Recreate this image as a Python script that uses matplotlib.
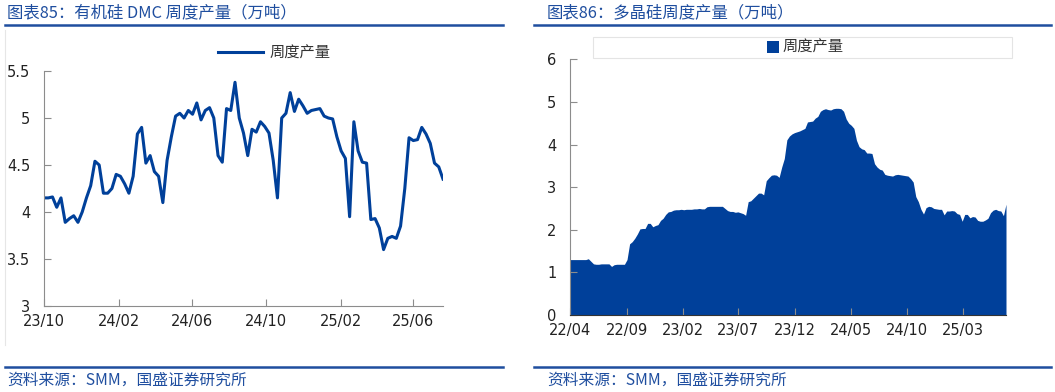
"""weekly output charts: DMC and polysilicon"""
import matplotlib
matplotlib.use("Agg")
import matplotlib.pyplot as plt
import matplotlib.dates as mdates
import pandas as pd
from matplotlib.lines import Line2D
from matplotlib.patches import Rectangle

CJK = ['Noto Sans CJK SC', 'DejaVu Sans']
BLUE = '#00409A'
TITLE_BLUE = '#1F4E9F'

DMC_START = '2023-10-01'
DMC_OUTPUT = [
    4.15, 4.15, 4.16, 4.05, 4.15, 3.89, 3.93, 3.96, 3.89, 4.00,
    4.15, 4.28, 4.54, 4.50, 4.20, 4.20, 4.25, 4.40, 4.38, 4.30,
    4.20, 4.38, 4.83, 4.90, 4.52, 4.60, 4.43, 4.38, 4.10, 4.55,
    4.80, 5.02, 5.05, 5.00, 5.08, 5.04, 5.16, 4.98, 5.08, 5.11,
    5.00, 4.60, 4.53, 5.10, 5.08, 5.38, 5.00, 4.84, 4.60, 4.88,
    4.85, 4.96, 4.91, 4.84, 4.55, 4.15, 5.00, 5.05, 5.27, 5.07,
    5.20, 5.13, 5.05, 5.08, 5.09, 5.10, 5.02, 5.00, 4.99, 4.80,
    4.65, 4.57, 3.95, 4.96, 4.65, 4.53, 4.52, 3.92, 3.93, 3.83,
    3.60, 3.72, 3.74, 3.72, 3.85, 4.25, 4.79, 4.76, 4.77, 4.90,
    4.83, 4.73, 4.52, 4.48, 4.35]
DMC_TICKS = ['2023-10-01', '2024-02-01', '2024-06-01', '2024-10-01',
             '2025-02-01', '2025-06-01']

POLY_START = '2022-04-01'
POLY_OUTPUT = [
    1.30, 1.30, 1.30, 1.30, 1.30, 1.30, 1.30, 1.32, 1.26, 1.20,
    1.19, 1.19, 1.20, 1.20, 1.20, 1.20, 1.14, 1.18, 1.19, 1.19,
    1.19, 1.19, 1.30, 1.67, 1.72, 1.80, 1.90, 2.02, 2.03, 2.03,
    2.15, 2.15, 2.07, 2.10, 2.12, 2.22, 2.27, 2.36, 2.42, 2.43,
    2.46, 2.47, 2.47, 2.48, 2.47, 2.48, 2.48, 2.48, 2.49, 2.49,
    2.50, 2.49, 2.49, 2.54, 2.55, 2.55, 2.55, 2.55, 2.55, 2.55,
    2.50, 2.45, 2.43, 2.43, 2.41, 2.42, 2.40, 2.38, 2.34, 2.66,
    2.68, 2.74, 2.80, 2.86, 2.86, 2.82, 3.15, 3.22, 3.28, 3.29,
    3.28, 3.23, 3.47, 3.67, 4.11, 4.20, 4.25, 4.28, 4.30, 4.32,
    4.35, 4.38, 4.53, 4.54, 4.55, 4.62, 4.66, 4.78, 4.82, 4.84,
    4.82, 4.81, 4.84, 4.85, 4.85, 4.84, 4.78, 4.60, 4.50, 4.45,
    4.38, 4.10, 3.95, 3.90, 3.88, 3.80, 3.80, 3.79, 3.55, 3.47,
    3.42, 3.40, 3.30, 3.28, 3.27, 3.26, 3.29, 3.30, 3.29, 3.28,
    3.27, 3.26, 3.20, 3.12, 2.78, 2.66, 2.48, 2.37, 2.52, 2.55,
    2.54, 2.50, 2.49, 2.48, 2.48, 2.35, 2.44, 2.44, 2.45, 2.44,
    2.38, 2.36, 2.20, 2.36, 2.36, 2.28, 2.31, 2.30, 2.22, 2.20,
    2.20, 2.23, 2.27, 2.40, 2.46, 2.48, 2.45, 2.44, 2.33, 2.60]
POLY_TICKS = ['2022-04-01', '2022-09-01', '2023-02-01', '2023-07-01',
              '2023-12-01', '2024-05-01', '2024-10-01', '2025-03-01']

W, H = 1055, 392


def fx(px):
    return px / W


def fy(py):
    return 1 - py / H


def style_axes(ax, ticks, color_bottom):
    for side in ('top', 'right'):
        ax.spines[side].set_visible(False)
    ax.spines['left'].set_color('#8c8c8c')
    ax.spines['bottom'].set_color(color_bottom)
    ax.tick_params(direction='in', length=5, color='#8c8c8c',
                   labelsize=10.5, labelcolor='#222222')
    ax.tick_params(axis='y', pad=10)
    ax.tick_params(axis='x', pad=6)
    ax.set_xticks(pd.to_datetime(ticks))
    ax.xaxis.set_major_formatter(mdates.DateFormatter('%y/%m'))


def header_footer(fig, x_text, x0, x1, title):
    fig.text(fx(x_text), fy(13), title, family=CJK, fontsize=11.8,
             color=TITLE_BLUE, va='center', ha='left')
    fig.add_artist(Line2D([fx(x0), fx(x1)], [fy(24.5), fy(24.5)],
                          color=TITLE_BLUE, lw=1.8))
    fig.add_artist(Line2D([fx(x0), fx(x1)], [fy(367), fy(367)],
                          color=TITLE_BLUE, lw=1.8))
    fig.text(fx(x_text), fy(380), '资料来源：SMM，国盛证券研究所', family=CJK,
             fontsize=11.3, color=TITLE_BLUE, va='center', ha='left')


def plot():
    """drawing both panels"""
    fig = plt.figure(figsize=(W / 100, H / 100), dpi=100)

    # left panel: DMC
    dmc_dates = pd.date_range(DMC_START, periods=len(DMC_OUTPUT), freq='7D')
    ax1 = fig.add_axes([fx(44), fy(306), fx(443 - 44), (306 - 71) / H])
    ax1.plot(dmc_dates, DMC_OUTPUT, color=BLUE, lw=2.2, label='周度产量')
    ax1.set_xlim(dmc_dates[0], dmc_dates[-1])
    ax1.set_ylim(3, 5.5)
    ax1.set_yticks([3, 3.5, 4, 4.5, 5, 5.5])
    ax1.set_yticklabels(['3', '3.5', '4', '4.5', '5', '5.5'])
    style_axes(ax1, DMC_TICKS, '#8c8c8c')
    leg1 = ax1.legend(loc='center', bbox_to_anchor=(fx(274), fy(53)),
                      bbox_transform=fig.transFigure, frameon=False,
                      handlelength=3, handletextpad=0.4,
                      prop={'family': CJK, 'size': 11})
    leg1.get_texts()[0].set_color('#333333')
    fig.add_artist(Line2D([fx(5), fx(5)], [fy(30), fy(345)],
                          color='#e6e6e6', lw=0.8))

    # right panel: polysilicon
    poly_dates = pd.date_range(POLY_START, periods=len(POLY_OUTPUT), freq='7D')
    ax2 = fig.add_axes([fx(570.3), fy(315), fx(1006 - 570.3), (315 - 59.3) / H])
    ax2.fill_between(poly_dates, 0, POLY_OUTPUT, color=BLUE, lw=0,
                     label='周度产量')
    ax2.set_xlim(poly_dates[0], poly_dates[-1])
    ax2.set_ylim(0, 6)
    ax2.set_yticks(range(7))
    style_axes(ax2, POLY_TICKS, '#333333')
    fig.add_artist(Rectangle((fx(593), fy(58)), fx(1012 - 593), 21 / H,
                             transform=fig.transFigure, fill=False,
                             edgecolor='#e4e4e4', lw=0.8))
    leg2 = ax2.legend(loc='center', bbox_to_anchor=(fx(805), fy(47.5)),
                      bbox_transform=fig.transFigure, frameon=False,
                      handlelength=0.8, handleheight=0.8, handletextpad=0.2,
                      prop={'family': CJK, 'size': 11})
    leg2.get_texts()[0].set_color('#333333')

    header_footer(fig, 7, 5, 503, '图表85：有机硅 DMC 周度产量（万吨）')
    header_footer(fig, 547, 534, 1051, '图表86：多晶硅周度产量（万吨）')

    fig.savefig('out.png', dpi=100)


plot()
